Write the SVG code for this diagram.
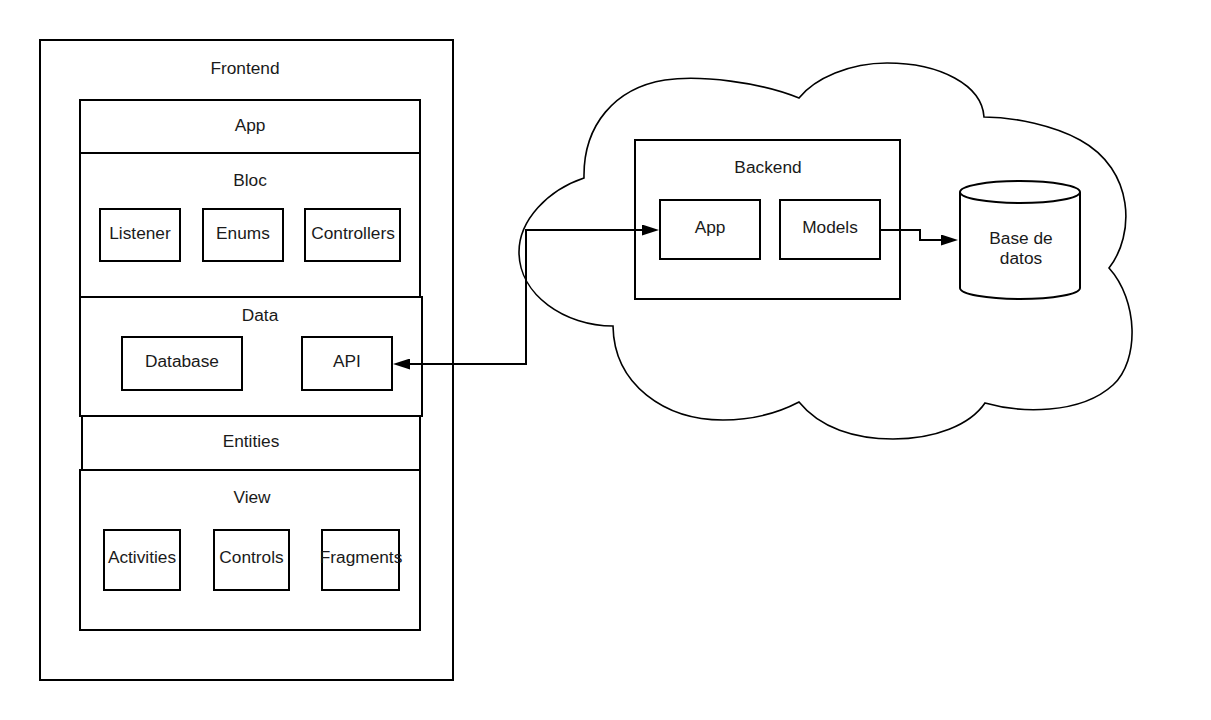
<svg xmlns="http://www.w3.org/2000/svg" width="1211" height="720" viewBox="0 0 1211 720">
  <style>
    .box { fill: #ffffff; stroke: #000000; stroke-width: 2; }
    .cloud { fill: #ffffff; stroke: #000000; stroke-width: 1.6; }
    .lbl { font-family: "Liberation Sans", Arial, sans-serif; font-size: 17.3px; fill: #1a1a1a; text-anchor: middle; }
    .edge { fill: none; stroke: #000000; stroke-width: 2; }
  </style>
  <defs>
    <marker id="arrow" viewBox="0 0 17 11" refX="0" refY="5.5" markerWidth="17" markerHeight="11" markerUnits="userSpaceOnUse" orient="auto-start-reverse">
      <path d="M0,0 L17,5.5 L0,11 Z" fill="#000000"/>
    </marker>
  </defs>
  <rect x="0" y="0" width="1211" height="720" fill="#ffffff"/>

  <g id="cloud">
    <path class="cloud" d="M584,178 C548,190 519,220 519,252 C519,295 565,326 613,326 C614,385 665,420 723,420 C752,420 778,413 799,402 C820,428 855,439 893,439 C935,439 970,425 985,403 C1020,413 1080,415 1113,385 C1140,360 1138,300 1109,268 C1135,235 1135,170 1080,140 C1055,126 1015,117 984,117 C982,85 940,63 887,63 C850,63 815,78 799,98 C760,82 700,75 665,80 C615,88 583,125 584,178 Z"/>
  </g>

  <g id="frontend">
    <rect class="box" x="40" y="40" width="413" height="640"/>
    <text class="lbl" x="245" y="74">Frontend</text>
  </g>
  <g id="fe-app">
    <rect class="box" x="80" y="100" width="340" height="53"/>
    <text class="lbl" x="250" y="131">App</text>
  </g>
  <g id="bloc">
    <rect class="box" x="80" y="153" width="340" height="144"/>
    <text class="lbl" x="250" y="186">Bloc</text>
  </g>
  <g id="listener">
    <rect class="box" x="100" y="209" width="80" height="52"/>
    <text class="lbl" x="140" y="239">Listener</text>
  </g>
  <g id="enums">
    <rect class="box" x="203" y="209" width="80" height="52"/>
    <text class="lbl" x="243" y="239">Enums</text>
  </g>
  <g id="controllers">
    <rect class="box" x="305" y="209" width="95" height="52"/>
    <text class="lbl" x="353" y="239">Controllers</text>
  </g>
  <g id="data">
    <rect class="box" x="80" y="297" width="342" height="119"/>
    <text class="lbl" x="260" y="321">Data</text>
  </g>
  <g id="database">
    <rect class="box" x="122" y="337" width="120" height="53"/>
    <text class="lbl" x="182" y="367">Database</text>
  </g>
  <g id="api">
    <rect class="box" x="302" y="337" width="90" height="53"/>
    <text class="lbl" x="347" y="367">API</text>
  </g>
  <g id="entities">
    <rect class="box" x="82" y="416" width="338" height="54"/>
    <text class="lbl" x="251" y="447">Entities</text>
  </g>
  <g id="view">
    <rect class="box" x="80" y="470" width="340" height="160"/>
    <text class="lbl" x="252" y="503">View</text>
  </g>
  <g id="activities">
    <rect class="box" x="104" y="530" width="76" height="60"/>
    <text class="lbl" x="142" y="563">Activities</text>
  </g>
  <g id="controls">
    <rect class="box" x="214" y="530" width="75" height="60"/>
    <text class="lbl" x="251.5" y="563">Controls</text>
  </g>
  <g id="fragments">
    <rect class="box" x="322" y="530" width="77" height="60"/>
    <text class="lbl" x="361" y="563">Fragments</text>
  </g>

  <g id="backend">
    <rect class="box" x="635" y="140" width="265" height="159"/>
    <text class="lbl" x="768" y="173">Backend</text>
  </g>
  <g id="be-app">
    <rect class="box" x="660" y="200" width="100" height="59"/>
    <text class="lbl" x="710" y="233">App</text>
  </g>
  <g id="models">
    <rect class="box" x="780" y="200" width="100" height="59"/>
    <text class="lbl" x="830" y="233">Models</text>
  </g>
  <g id="base-de-datos">
    <path class="box" d="M960,192 V288 A60,11 0 0 0 1080,288 V192 A60,11 0 0 0 960,192 Z"/>
    <path class="edge" d="M960,192 A60,11 0 0 0 1080,192"/>
    <text class="lbl" x="1021" y="244">Base de</text>
    <text class="lbl" x="1021" y="264">datos</text>
  </g>

  <g id="connectors">
    <path class="edge" d="M410,364 H526 V230 H642" marker-start="url(#arrow)" marker-end="url(#arrow)"/>
    <path class="edge" d="M880,230 H920 V240 H941" marker-end="url(#arrow)"/>
  </g>
</svg>
